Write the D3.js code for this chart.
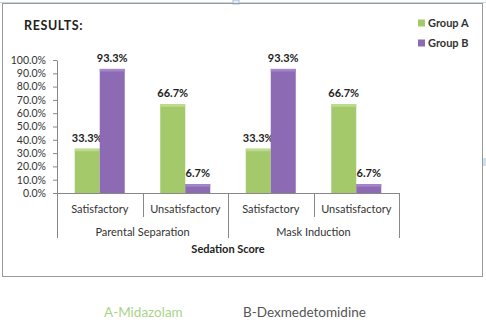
<!DOCTYPE html>
<html><head><meta charset="utf-8">
<script src="https://cdn.jsdelivr.net/npm/d3@7"></script>
<style>body{margin:0;background:#fff}svg{display:block}text{font-family:Lato,"Open Sans",sans-serif}</style>
</head><body>
<svg id="c" width="486" height="334"></svg>
<script>
const groups = ["Parental Separation", "Mask Induction"];
const scores = ["Satisfactory", "Unsatisfactory"];
const categories = [
  ["Parental Separation", "Satisfactory"],
  ["Parental Separation", "Unsatisfactory"],
  ["Mask Induction", "Satisfactory"],
  ["Mask Induction", "Unsatisfactory"]
];
const series = ["Group A", "Group B"];
const groupA = [33.3, 66.7, 33.3, 66.7];
const groupB = [93.3, 6.7, 93.3, 6.7];
const yTicks = [0,10,20,30,40,50,60,70,80,90,100];
const colors = ["#a3c96b", "#8d6bb4"];
const topColors = ["#bcdb8c", "#a487c8"];

const svg = d3.select("#c");
// frame
svg.append("line").attr("x1",0).attr("x2",486).attr("y1",2.5).attr("y2",2.5).attr("stroke","#c5d3e3");
svg.append("rect").attr("x",233).attr("y",0).attr("width",6).attr("height",4).attr("fill","#e3ecf6").attr("stroke","#a9bfd8");
svg.append("rect").attr("x",2.5).attr("y",3.5).attr("width",480).attr("height",273).attr("fill","none").attr("stroke","#9a9a9a");
svg.append("rect").attr("x",483).attr("y",158).attr("width",3).attr("height",8).attr("fill","#cfe0f0");

const x0 = 57, x1 = 399, yTop = 60, yBot = 193;
const x = d3.scaleBand().domain(d3.range(categories.length)).range([x0, x1]).paddingInner(0).paddingOuter(0);
const y = d3.scaleLinear().domain([0, 100]).range([yBot, yTop]);
const xs = d3.scaleBand().domain(series).range([0, x.bandwidth()]).paddingInner(0).paddingOuter(0.71);

// y axis
const ya = svg.append("g").attr("transform", `translate(${x0},0)`)
  .call(d3.axisLeft(y).tickValues(yTicks).tickFormat(d => d.toFixed(1) + "%").tickSize(4).tickSizeOuter(0));
ya.select(".domain").attr("stroke", "#888");
ya.selectAll(".tick line").attr("stroke", "#888");
ya.selectAll("text").attr("font-size", 10.5).attr("fill", "#333").attr("x", -11);

// bars
const data = categories.map((c, i) => ({i, vals: [groupA[i], groupB[i]]}));
const cat = svg.append("g").selectAll("g").data(data).join("g").attr("transform", d => `translate(${x(d.i)},0)`);
cat.selectAll("g.bar").data(d => d.vals.map((v, k) => ({v, k}))).join("g").attr("class","bar").each(function(d){
  const g = d3.select(this);
  const bx = xs(series[d.k]), bw = xs.bandwidth();
  g.append("rect").attr("x", bx).attr("y", y(d.v)).attr("width", bw).attr("height", yBot - y(d.v)).attr("fill", colors[d.k]);
  g.append("rect").attr("x", bx).attr("y", y(d.v)).attr("width", bw).attr("height", Math.min(2.5, yBot - y(d.v))).attr("fill", topColors[d.k]);
  g.append("text").attr("x", bx + bw/2).attr("y", y(d.v) - 7).attr("text-anchor","middle")
    .attr("font-size", 11).attr("font-weight", "bold").attr("fill", "#222").text(d.v.toFixed(1) + "%");
});

// x axis
const ax = svg.append("g");
ax.append("line").attr("x1", x0).attr("x2", x1).attr("y1", yBot + 0.5).attr("y2", yBot + 0.5).attr("stroke", "#888");
categories.forEach((c, i) => {
  ax.append("text").attr("x", x(i) + x.bandwidth()/2).attr("y", 213).attr("text-anchor","middle")
    .attr("font-size", 11).attr("fill", "#333").text(c[1]);
});
const bounds = d3.range(categories.length + 1).map(i => i < categories.length ? x(i) : x1);
bounds.forEach((bx, i) => {
  const outer = (i % scores.length === 0);
  ax.append("line").attr("x1", Math.round(bx)+0.5).attr("x2", Math.round(bx)+0.5).attr("y1", yBot).attr("y2", outer ? 238 : 217).attr("stroke", "#888");
});
groups.forEach((gname, gi) => {
  const a = x(gi * scores.length), b = gi === groups.length - 1 ? x1 : x((gi+1) * scores.length);
  ax.append("text").attr("x", (a + b)/2).attr("y", 236).attr("text-anchor","middle")
    .attr("font-size", 11).attr("fill", "#333").text(gname);
});
svg.append("text").attr("x", (x0 + x1)/2).attr("y", 253).attr("text-anchor","middle")
  .attr("font-size", 11).attr("font-weight","bold").attr("fill","#222").text("Sedation Score");

// title
svg.append("text").attr("x", 24).attr("y", 30).attr("font-size", 12.5).attr("font-weight","bold").attr("letter-spacing", 0.6).attr("fill","#222").text("RESULTS:");

// legend
series.forEach((s, k) => {
  const ly = 23 + k * 20;
  svg.append("rect").attr("x", 418).attr("y", ly - 3.5).attr("width", 7).attr("height", 7).attr("fill", colors[k]);
  svg.append("text").attr("x", 428).attr("y", ly + 4).attr("font-size", 11).attr("font-weight","bold").attr("fill","#333").text(s);
});

// footer
svg.append("text").attr("x", 104).attr("y", 317).attr("font-size", 13.5).attr("fill", "#a9d48a").text("A-Midazolam");
svg.append("text").attr("x", 243).attr("y", 317).attr("font-size", 13.5).attr("fill", "#555").text("B-Dexmedetomidine");
</script>
</body></html>
